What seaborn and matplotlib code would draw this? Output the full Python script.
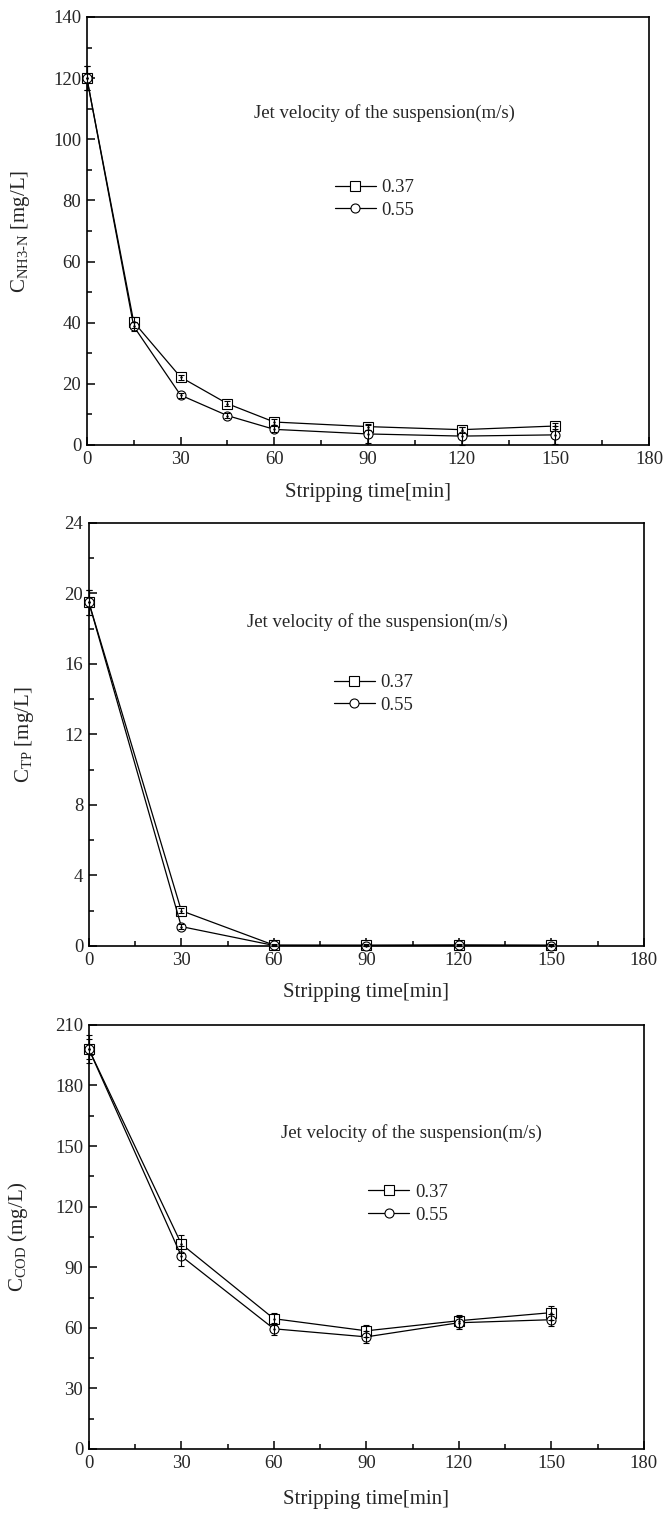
import matplotlib
matplotlib.use("Agg")
import matplotlib.pyplot as plt
from matplotlib.lines import Line2D
from matplotlib.ticker import MultipleLocator
import pandas as pd
import seaborn as sns

# dados
velocidades = ["0.37", "0.55"]

tempo_nh3 = [0, 15, 30, 45, 60, 90, 120, 150]
nh3_037 = [120, 40.2, 22.2, 13.5, 7.5, 6.0, 5.0, 6.2]
nh3_055 = [120, 38.8, 16.3, 9.6, 5.1, 3.6, 2.9, 3.3]
err_nh3_037 = [4.0, 1.8, 0.8, 0.8, 1.0, 1.0, 1.0, 1.0]
err_nh3_055 = [4.0, 1.5, 0.8, 0.8, 1.0, 3.0, 3.0, 3.0]

tempo_tp = [0, 30, 60, 90, 120, 150]
tp_037 = [19.5, 2.0, 0.05, 0.05, 0.06, 0.05]
tp_055 = [19.5, 1.1, 0.03, 0.02, 0.03, 0.02]
err_tp_037 = [0.7, 0.15, 0.05, 0.05, 0.05, 0.05]
err_tp_055 = [0.7, 0.15, 0.05, 0.05, 0.05, 0.05]

tempo_cod = [0, 30, 60, 90, 120, 150]
cod_037 = [198, 101.5, 64.5, 58.5, 63.5, 67.5]
cod_055 = [198, 95.5, 59.5, 55.5, 62.5, 64.0]
err_cod_037 = [7.0, 4.5, 3.0, 3.0, 3.0, 3.5]
err_cod_055 = [5.0, 5.0, 3.0, 3.0, 3.0, 3.0]

sns.set_theme(style="ticks")
plt.rcParams["font.family"] = ["Liberation Serif", "DejaVu Serif"]
plt.rcParams["mathtext.fontset"] = "custom"
plt.rcParams["mathtext.rm"] = "Liberation Serif"
plt.rcParams["mathtext.it"] = "Liberation Serif:italic"

marcadores = {"0.37": "s", "0.55": "o"}


def painel(fig, pos, tempo, s1, s2, e1, e2, ymax, ystep, ylabel,
           txt_pos, leg_pos, ylab_x, xlab_y):
    ax = fig.add_axes(pos)
    df = pd.DataFrame({
        "tempo": tempo + tempo,
        "conc": s1 + s2,
        "vel": [velocidades[0]] * len(tempo) + [velocidades[1]] * len(tempo),
    })
    sns.lineplot(data=df, x="tempo", y="conc", style="vel", markers=marcadores,
                 dashes=False, color="black", linewidth=0.9, markersize=6.5,
                 markerfacecolor="white", markeredgecolor="black",
                 markeredgewidth=0.8, legend=False, clip_on=False, ax=ax,
                 zorder=3)
    for y, e in [(s1, e1), (s2, e2)]:
        ax.errorbar(tempo, y, yerr=e, fmt="none", ecolor="black",
                    elinewidth=0.8, capsize=2.5, capthick=0.8, zorder=4,
                    clip_on=False)
        ax.plot(tempo, y, ".", color="black", ms=1.5, zorder=5, clip_on=False)

    ax.set_xlim(0, 180)
    ax.set_ylim(0, ymax)
    ax.xaxis.set_major_locator(MultipleLocator(30))
    ax.xaxis.set_minor_locator(MultipleLocator(15))
    ax.yaxis.set_major_locator(MultipleLocator(ystep))
    ax.yaxis.set_minor_locator(MultipleLocator(ystep / 2))
    ax.tick_params(which="both", direction="in", top=False, right=False,
                   labelsize=13.5, pad=4, width=1.1, color="black")
    ax.tick_params(which="major", length=6)
    ax.tick_params(which="minor", length=3.5)
    for sp in ax.spines.values():
        sp.set_linewidth(1.2)
        sp.set_color("black")

    ax.set_xlabel("Stripping time[min]", fontsize=15)
    ax.set_ylabel(ylabel, fontsize=15)
    ax.xaxis.set_label_coords(0.5, xlab_y)
    ax.yaxis.set_label_coords(ylab_x, 0.5)

    ax.text(txt_pos[0], txt_pos[1], "Jet velocity of the suspension(m/s)",
            transform=ax.transAxes, fontsize=13.5, va="center", ha="left")

    handles = [Line2D([], [], color="black", lw=0.9, marker=marcadores[v],
                      ms=6.5, mfc="white", mec="black", mew=0.8)
               for v in velocidades]
    ax.legend(handles, velocidades, loc="upper left", bbox_to_anchor=leg_pos,
              frameon=False, borderpad=0, borderaxespad=0, handlelength=2.2,
              handletextpad=0.3, labelspacing=0.3, fontsize=13.5)
    return ax


fig = plt.figure(figsize=(6.63, 15.15), dpi=100)

painel(fig, [0.131, 0.7063, 0.848, 0.2825], tempo_nh3, nh3_037, nh3_055,
       err_nh3_037, err_nh3_055, 140, 20,
       r"C$_{\mathregular{NH3\text{-}N}}$ [mg/L]",
       (0.297, 0.776), (0.441, 0.621), -0.098, -0.089)

painel(fig, [0.134, 0.3756, 0.837, 0.2792], tempo_tp, tp_037, tp_055,
       err_tp_037, err_tp_055, 24, 4,
       r"C$_{\mathregular{TP}}$ [mg/L]",
       (0.285, 0.766), (0.441, 0.643), -0.095, -0.0875)

painel(fig, [0.134, 0.0436, 0.837, 0.2799], tempo_cod, cod_037, cod_055,
       err_cod_037, err_cod_055, 210, 30,
       r"C$_{\mathregular{COD}}$ (mg/L)",
       (0.346, 0.745), (0.503, 0.625), -0.106, -0.097)

fig.savefig("out.png", dpi=100)
